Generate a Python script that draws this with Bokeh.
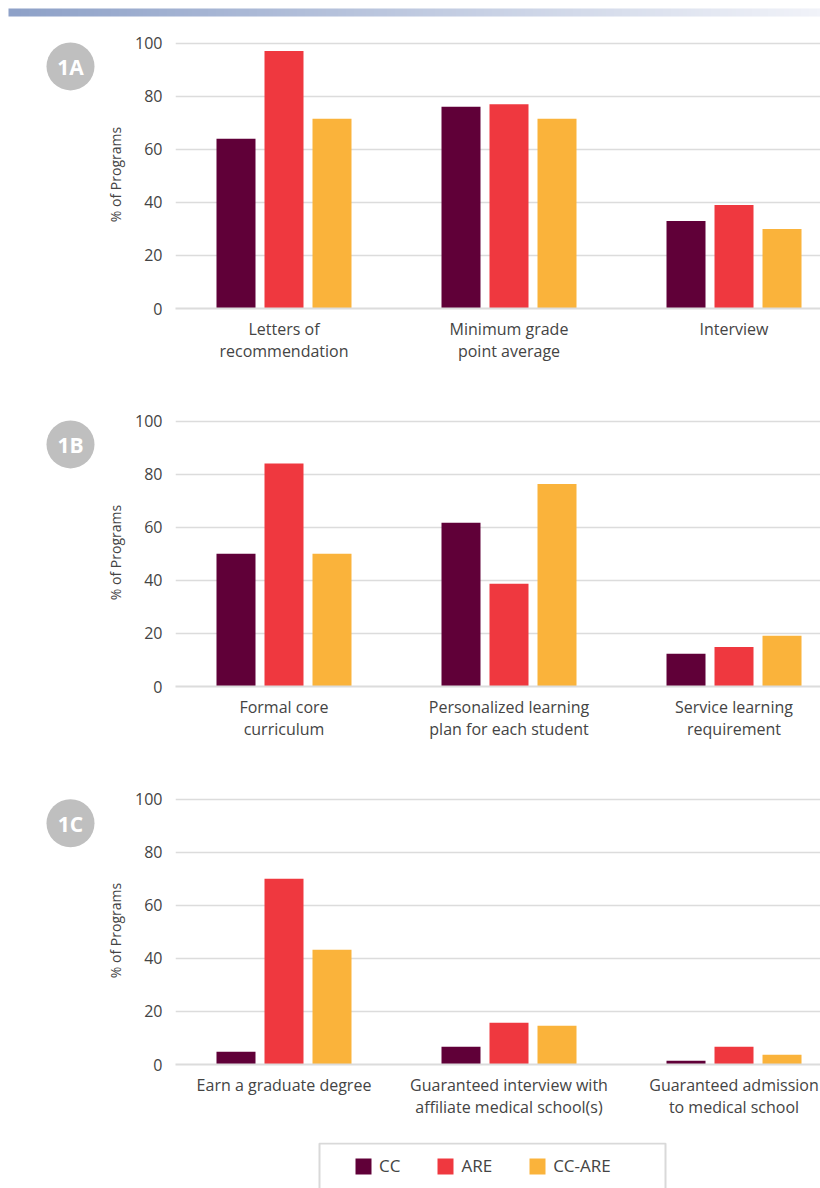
import numpy as np
from bokeh.plotting import figure
from bokeh.layouts import column, row
from bokeh.models import (ColumnDataSource, Range1d, FixedTicker, Legend, LegendItem)
from bokeh.transform import dodge
from bokeh.core.properties import value
from bokeh.embed import file_html
from bokeh.resources import INLINE

# ---------------- data ----------------
series = ["CC", "ARE", "CC-ARE"]
colors = ["#600038", "#ef383f", "#fab33b"]

panel_ids = ["1A", "1B", "1C"]

cats_1a = ["Letters of\nrecommendation", "Minimum grade\npoint average", "Interview"]
cc_1a = [64, 76, 33]
are_1a = [97, 77, 39]
ccare_1a = [71.5, 71.5, 30]

cats_1b = ["Formal core\ncurriculum", "Personalized learning\nplan for each student", "Service learning\nrequirement"]
cc_1b = [50, 61.7, 12.3]
are_1b = [84, 38.7, 14.9]
ccare_1b = [50, 76.3, 19.1]

cats_1c = ["Earn a graduate degree", "Guaranteed interview with\naffiliate medical school(s)",
           "Guaranteed admission\nto medical school"]
cc_1c = [4.8, 6.7, 1.4]
are_1c = [70, 15.7, 6.7]
ccare_1c = [43.2, 14.6, 3.7]

y_ticks = [0, 20, 40, 60, 80, 100]
y_label = "% of Programs"

FONT = "Open Sans"
TXT = "#444444"
GRID = "#dcdcdc"


def bare(p):
    p.xaxis.visible = False
    p.yaxis.visible = False
    p.xgrid.visible = False
    p.ygrid.visible = False
    p.outline_line_color = None
    p.background_fill_color = None
    p.border_fill_color = "white"


# ---------------- top gradient strip ----------------
top = figure(width=820, height=20, x_range=Range1d(0, 820), y_range=Range1d(0, 20),
             output_backend="svg", toolbar_location=None,
             min_border_left=0, min_border_right=0, min_border_top=0, min_border_bottom=0)
bare(top)
n = 200
c0 = np.array([142, 161, 200])
c1 = np.array([241, 243, 249])
t = np.linspace(0, 1, n)[:, None]
cols = (c0 * (1 - t) + c1 * t).astype(np.uint32)
img = np.zeros((1, n), dtype=np.uint32)
view = img.view(dtype=np.uint8).reshape((1, n, 4))
view[0, :, 0] = cols[:, 0]
view[0, :, 1] = cols[:, 1]
view[0, :, 2] = cols[:, 2]
view[0, :, 3] = 255
top.image_rgba(image=[img], x=8, y=4, dw=812, dh=8)


def badge(label, h):
    b = figure(width=100, height=h, x_range=Range1d(0, 100), y_range=Range1d(h, 0),
               output_backend="svg", toolbar_location=None,
               min_border_left=0, min_border_right=0, min_border_top=0, min_border_bottom=0)
    bare(b)
    b.scatter(x=[70], y=[36.5], size=48, marker="circle", fill_color="#bfbfbf", line_color=None)
    b.text(x=[70], y=[37.5], text=[label], text_align="center", text_baseline="middle",
           text_color="white", text_font=value(FONT), text_font_style="bold",
           text_font_size="21px")
    return b


def panel(cats, cc, are, ccare, h, bottom_border):
    src = ColumnDataSource(dict(x=[0, 1, 2], cc=cc, are=are, ccare=ccare))
    p = figure(width=720, height=h, x_range=Range1d(-0.4822, 2.3844), y_range=Range1d(0, 101),
               output_backend="svg", toolbar_location=None,
               min_border_left=75, min_border_right=0, min_border_top=20,
               min_border_bottom=bottom_border)
    p.outline_line_color = None
    step = 48 / 225
    w = 39 / 225
    for key, off, col in zip(["cc", "are", "ccare"], [-step, 0, step], colors):
        p.vbar(x=dodge("x", off, range=p.x_range), top=key, width=w, source=src,
               fill_color=col, line_color=None)
    p.xgrid.visible = False
    p.ygrid.grid_line_color = GRID
    p.ygrid.grid_line_width = 1.5
    p.ygrid.ticker = FixedTicker(ticks=y_ticks)
    p.yaxis.ticker = FixedTicker(ticks=y_ticks)
    p.xaxis.ticker = FixedTicker(ticks=[0, 1, 2])
    p.xaxis.major_label_overrides = {i: c for i, c in enumerate(cats)}
    for ax in (p.xaxis[0], p.yaxis[0]):
        ax.major_tick_line_color = None
        ax.minor_tick_line_color = None
        ax.major_tick_out = 0
        ax.major_tick_in = 0
        ax.minor_tick_out = 0
        ax.major_label_text_font = FONT
        ax.major_label_text_font_size = "16px"
        ax.major_label_text_color = TXT
    p.yaxis.axis_line_color = None
    p.yaxis.major_label_standoff = 13
    p.yaxis.axis_label = y_label
    p.yaxis.axis_label_text_font = FONT
    p.yaxis.axis_label_text_font_style = "normal"
    p.yaxis.axis_label_text_font_size = "14px"
    p.yaxis.axis_label_text_color = TXT
    p.yaxis.axis_label_standoff = 7
    p.xaxis.axis_line_color = GRID
    p.xaxis.axis_line_width = 2
    p.xaxis.major_label_standoff = 9
    p.xaxis.major_label_text_line_height = 1.0
    return p


pa = panel(cats_1a, cc_1a, are_1a, ccare_1a, 378, 90)
pb = panel(cats_1b, cc_1b, are_1b, ccare_1b, 378, 90)
pc = panel(cats_1c, cc_1c, are_1c, ccare_1c, 366, 78)

# ---------------- legend strip ----------------
lg = figure(width=820, height=46, x_range=Range1d(0, 820), y_range=Range1d(0, 46),
            output_backend="svg", toolbar_location=None,
            min_border_left=0, min_border_right=0, min_border_top=0, min_border_bottom=0)
bare(lg)
lg.quad(left=[319], right=[665], bottom=[-20], top=[45], fill_color=None,
        line_color="#d9d9d9", line_width=2)
items = []
for s, col in zip(series, colors):
    # placeholder renderer outside the visible range; only its swatch is shown
    r = lg.vbar(x=[-1000], top=[0], width=1, fill_color=col, line_color=None)
    items.append(LegendItem(label=s, renderers=[r]))
legend = Legend(items=items, orientation="horizontal", location=(353, 11),
                glyph_width=20, glyph_height=20, label_standoff=6, spacing=35,
                padding=0, margin=0, border_line_color=None, background_fill_alpha=0,
                label_text_font=FONT, label_text_font_size="17px", label_text_color=TXT,
                label_height=20)
lg.add_layout(legend)

layout = column(top,
                row(badge(panel_ids[0], 378), pa),
                row(badge(panel_ids[1], 378), pb),
                row(badge(panel_ids[2], 366), pc),
                lg)

open("out.html", "w").write(file_html(layout, INLINE))
